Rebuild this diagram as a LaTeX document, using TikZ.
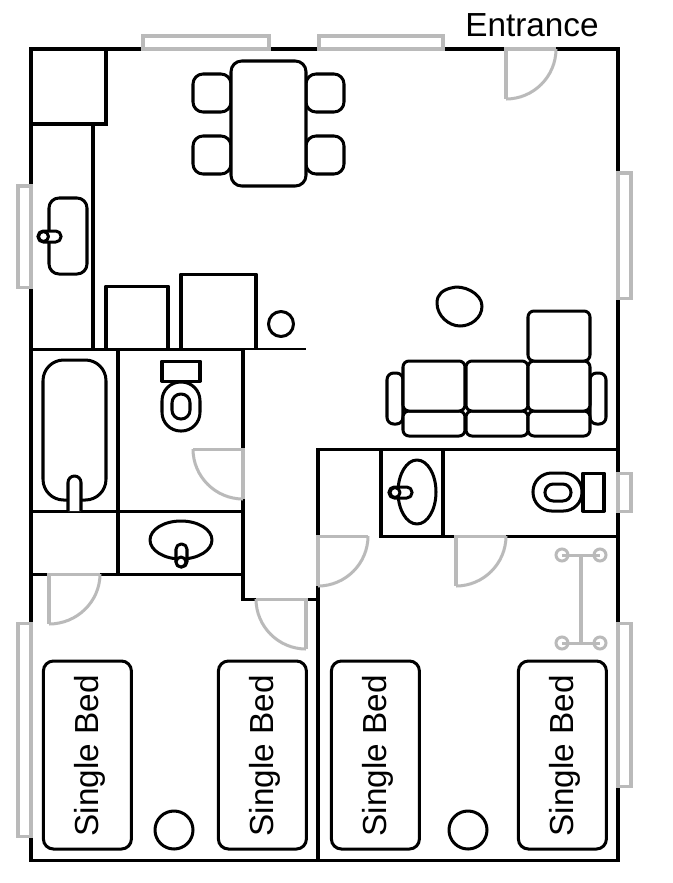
\documentclass[tikz,border=0pt]{standalone}
\usepackage{fontspec}
\setmainfont{Liberation Sans}
\tikzset{
  x=0.75pt,y=-0.75pt,
  wall/.style={draw=black,line width=2.26pt,line cap=rect,line join=miter},
  thinwall/.style={draw=black,line width=2.26pt},
  furn/.style={draw=black,line width=2.26pt,fill=white,line join=round},
  grayline/.style={draw=black!27,line width=2.26pt},
  graybox/.style={draw=black!27,line width=2.26pt,fill=white},
  bedlabel/.style={rotate=90,font=\fontsize{25}{25}\selectfont,inner sep=0pt},
}
\newcommand{\doorsw}[4]{% hinge x,y ; tip dx dy
  \draw[grayline] (#1+#3,#2) -- (#1,#2) -- (#1,#2+#4);
  \draw[grayline] (#1+#3,#2) .. controls (#1+#3,#2+0.55*#4) and (#1+0.55*#3,#2+#4) .. (#1,#2+#4);
}
\begin{document}
\begin{tikzpicture}
\useasboundingbox (0,0) rectangle (673,883);
\fill[white] (0,0) rectangle (673,883);
% outer walls
\draw[wall] (31,49) rectangle (618,860);
% kitchen
\draw[thinwall] (31,124) -- (106,124) -- (106,49);
\draw[thinwall] (93,124) -- (93,349);
\draw[furn,rounded corners=7.5pt] (49,198) rectangle (87,274);
\draw[furn,rounded corners=3.9pt] (38,231) rectangle (61,242);
\draw[furn] (43.5,236.5) circle (5);
\draw[furn] (106,349) -- (106,286) -- (168,286) -- (168,349);
\draw[furn] (181,349) -- (181,274) -- (256,274) -- (256,349);
\draw[furn] (281,324) circle (12.5);
% dining
\foreach \cx/\cy in {193/74,193/136,306/74,306/136}
  \draw[furn,rounded corners=7.5pt] (\cx,\cy) rectangle (\cx+38,\cy+38);
\draw[furn,rounded corners=8pt] (231,61) rectangle (306,186);
% inner walls
\draw[thinwall] (31,349) -- (243,349);
\draw[draw=black,line width=1.9pt] (243,349) -- (306,349);
\draw[thinwall] (118,349) -- (118,574);
\draw[thinwall] (31,511) -- (243,511);
\draw[thinwall] (31,574) -- (243,574);
\draw[thinwall] (243,349) -- (243,599) -- (318,599);
\draw[thinwall] (318,860) -- (318,449) -- (618,449);
\draw[thinwall] (381,449) -- (381,536) -- (618,536);
\draw[thinwall] (443,449) -- (443,536);
% bathtub
\draw[furn,rounded corners=15.5pt] (43,360) rectangle (106,500);
\draw[furn] (68,511) -- (68,482.5) arc[start angle=180,end angle=360,radius=6.5] -- (81,511);
% toilet 1
\draw[furn] (162,361) rectangle (200,381);
\draw[furn,rounded corners=14pt] (162,382) rectangle (200,431);
\draw[furn,rounded corners=6.6pt] (172,394) rectangle (190,419);
% sink 2
\draw[furn] (181,540) ellipse (31 and 19);
\draw[furn,rounded corners=3.9pt] (176,544) rectangle (187,567);
\draw[furn] (181,562) circle (5);
% sink 3
\draw[furn] (417,492) ellipse (19 and 32);
\draw[furn,rounded corners=3.9pt] (389,487) rectangle (412,498);
\draw[furn] (395,492.5) circle (5);
% toilet 2
\draw[furn] (583,473) rectangle (604,511);
\draw[furn,rounded corners=14pt] (533,473) rectangle (582,511);
\draw[furn,rounded corners=6.2pt] (545,484) rectangle (571,501);
% rug
\draw[furn] (437,303) .. controls (437,294) and (443,290) .. (451,288)
  .. controls (462,284) and (482,293) .. (482,306)
  .. controls (482,318) and (471,326) .. (460,326)
  .. controls (449,326) and (437,316) .. (437,303) -- cycle;
% sofa
\draw[furn,rounded corners=5pt] (387,373) rectangle (403,424);
\draw[furn,rounded corners=5pt] (590,373) rectangle (606,424);
\foreach \sx in {403,466,528}{
  \draw[furn,rounded corners=4.5pt] (\sx,411) rectangle (\sx+62,436);
  \draw[furn,rounded corners=4.5pt] (\sx,361) rectangle (\sx+62,411);
}
\draw[furn,rounded corners=4.5pt] (528,311) rectangle (590,361);
% windows
\draw[graybox] (143,36) rectangle (269,49);
\draw[graybox] (319,36) rectangle (443,49);
\draw[graybox] (18,186) rectangle (31,287);
\draw[graybox] (18,623) rectangle (31,836);
\draw[graybox] (618,173) rectangle (631,298);
\draw[graybox] (618,473) rectangle (631,511);
\draw[graybox] (618,623) rectangle (631,786);
% doors
\doorsw{243}{449}{-50}{50}
\doorsw{49}{574}{51}{50}
\doorsw{306}{599}{-50}{50}
\doorsw{318}{536}{50}{50}
\doorsw{456}{536}{50}{50}
\doorsw{506}{49}{50}{50}
% hanger
\draw[grayline] (562,555) -- (600,555);
\draw[grayline] (562,643) -- (600,643);
\draw[grayline] (581,555) -- (581,643);
\foreach \hx/\hy in {562/555,600/555,562/643,600/643}
  \draw[grayline] (\hx,\hy) circle (6);
% beds
\foreach \bx/\bn/\bt in {43.4/a/Single Bed,218.4/b/Single Bed,331.4/c/Single Bed,518.4/d/Single Bed}{
  \node[furn,rounded corners=7.5pt,minimum width=66pt,minimum height=141pt,inner sep=0pt,outer sep=0pt,anchor=north west] (bed\bn) at (\bx,661) {};
  \node[bedlabel] at ([xshift=2pt,yshift=-0.5pt]bed\bn.center) {\bt};
}
\draw[furn] (174,830) circle (19);
\draw[furn] (468,830) circle (19);
\node[anchor=west,inner sep=0pt,font=\fontsize{25}{26}\selectfont] (entrance) at (465,25) {Entrance};
\end{tikzpicture}
\end{document}
